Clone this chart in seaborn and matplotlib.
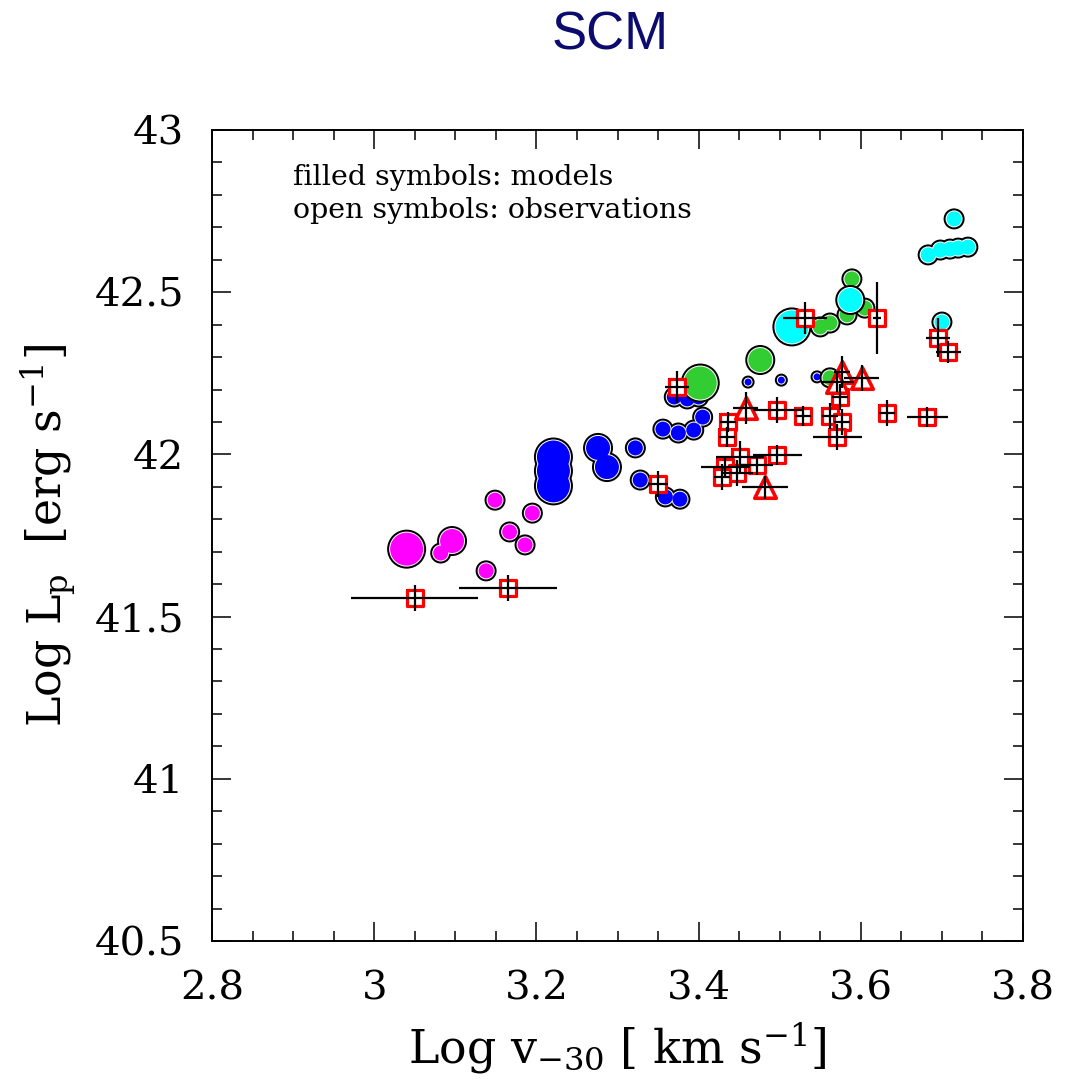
import numpy as np
import pandas as pd
import matplotlib
matplotlib.use("Agg")
import matplotlib.pyplot as plt
import seaborn as sns
from matplotlib.ticker import MultipleLocator

# model points (filled symbols), one group per colour
mag_x = [3.040, 3.082, 3.096, 3.138, 3.149, 3.167, 3.186, 3.195]
mag_y = [41.708, 41.696, 41.733, 41.641, 41.859, 41.761, 41.721, 41.819]
mag_cls = ["XL", "M", "L", "M", "M", "M", "M", "M"]

blue_x = [3.221, 3.221, 3.221, 3.276, 3.287, 3.322, 3.328, 3.359, 3.377,
          3.356, 3.375, 3.394, 3.405, 3.370, 3.386, 3.400, 3.461, 3.502, 3.546]
blue_y = [41.992, 41.949, 41.903, 42.020, 41.961, 42.020, 41.921, 41.869, 41.862,
          42.078, 42.066, 42.075, 42.115, 42.177, 42.171, 42.177, 42.223, 42.229, 42.239]
blue_cls = ["XL", "XL", "XL", "L", "L", "M", "M", "M", "M",
            "M", "M", "M", "M", "M", "M", "M", "S", "S", "S"]

green_x = [3.402, 3.476, 3.562, 3.550, 3.562, 3.583, 3.605, 3.589]
green_y = [42.220, 42.291, 42.236, 42.393, 42.405, 42.430, 42.451, 42.541]
green_cls = ["XL", "L", "M", "M", "M", "M", "M", "M"]

cyan_x = [3.515, 3.587, 3.700, 3.715, 3.683, 3.698, 3.710, 3.720, 3.732]
cyan_y = [42.393, 42.476, 42.408, 42.726, 42.615, 42.630, 42.633, 42.636, 42.639]
cyan_cls = ["XL", "L", "M", "M", "M", "M", "M", "M", "M"]

# observations (open symbols)
sq_x = [3.050, 3.165, 3.350, 3.373, 3.436, 3.435, 3.451, 3.433, 3.447, 3.429, 3.497, 3.472,
        3.529, 3.497, 3.562, 3.577, 3.571, 3.574, 3.632, 3.531, 3.620, 3.695, 3.708, 3.682]
sq_y = [41.557, 41.588, 41.909, 42.208, 42.100, 42.054, 41.992, 41.961, 41.943, 41.930, 41.998, 41.967,
        42.118, 42.137, 42.118, 42.100, 42.054, 42.177, 42.128, 42.420, 42.420, 42.359, 42.316, 42.115]
sq_xerr = [0.078, 0.060, 0.012, 0.015, 0.010, 0.010, 0.030, 0.030, 0.020, 0.010, 0.030, 0.020,
           0.010, 0.030, 0.010, 0.010, 0.030, 0.010, 0.010, 0.027, 0.005, 0.015, 0.015, 0.025]
sq_yerr = [0.040, 0.040, 0.040, 0.050, 0.030, 0.030, 0.050, 0.030, 0.040, 0.040, 0.030, 0.030,
           0.030, 0.040, 0.040, 0.040, 0.040, 0.040, 0.040, 0.050, 0.110, 0.060, 0.035, 0.030]

tri_x = [3.458, 3.482, 3.577, 3.571, 3.601]
tri_y = [42.143, 41.899, 42.254, 42.223, 42.236]
tri_xerr = [0.015, 0.028, 0.010, 0.020, 0.022]
tri_yerr = [0.050, 0.035, 0.050, 0.030, 0.040]

groups = [
    ("#FF00FF", mag_x, mag_y, mag_cls),
    ("#0000FF", blue_x, blue_y, blue_cls),
    ("#32CD32", green_x, green_y, green_cls),
    ("#00FFFF", cyan_x, cyan_y, cyan_cls),
]

# outer radius of each symbol class, in pixels (dpi 100)
radius = {"S": 6.5, "M": 10.5, "L": 15.0, "XL": 19.5}


def area(r_px):
    return (2 * r_px * 0.72) ** 2


sns.set_style("ticks")
plt.rcParams["font.family"] = ["DejaVu Serif"]
plt.rcParams["mathtext.fontset"] = "dejavuserif"
plt.rcParams["text.color"] = "black"
plt.rcParams["axes.labelcolor"] = "black"
plt.rcParams["xtick.color"] = "black"
plt.rcParams["ytick.color"] = "black"
plt.rcParams["axes.edgecolor"] = "black"

fig = plt.figure(figsize=(10.69, 10.88), dpi=100)
ax = fig.add_axes([0.1983, 0.1351, 0.7587, 0.7454])

for color, xs, ys, cls in groups:
    df = pd.DataFrame({"x": xs, "y": ys, "cls": cls})
    # black rim, thin white ring, coloured disk
    for shrink, c in [(0, "black"), (2.0, "white"), (3.0, color)]:
        sizes = {k: area(v - shrink) for k, v in radius.items()}
        sns.scatterplot(data=df, x="x", y="y", size="cls", sizes=sizes, color=c,
                        edgecolor="none", linewidth=0, legend=False, ax=ax, zorder=2)

sq = pd.DataFrame({"x": sq_x, "y": sq_y})
tri = pd.DataFrame({"x": tri_x, "y": tri_y})
sns.scatterplot(data=sq, x="x", y="y", marker="s", s=175, color="black",
                edgecolor="none", linewidth=0, ax=ax, zorder=3)
sns.scatterplot(data=sq, x="x", y="y", marker="s", s=132, color="white",
                edgecolor="#FF0000", linewidth=2.3, ax=ax, zorder=3)
sns.scatterplot(data=tri, x="x", y="y", marker="^", s=240, color="white",
                edgecolor="#FF0000", linewidth=2.6, ax=ax, zorder=3)
ax.errorbar(sq_x, sq_y, xerr=sq_xerr, yerr=sq_yerr, fmt="none", ecolor="black",
            elinewidth=1.6, capsize=0, zorder=4)
ax.errorbar(tri_x, tri_y, xerr=tri_xerr, yerr=tri_yerr, fmt="none", ecolor="black",
            elinewidth=1.6, capsize=0, zorder=4)

ax.set_xlim(2.8, 3.8)
ax.set_ylim(40.5, 43)
ax.xaxis.set_minor_locator(MultipleLocator(0.05))
ax.yaxis.set_minor_locator(MultipleLocator(0.1))
ax.set_xticks([2.8, 3.0, 3.2, 3.4, 3.6, 3.8])
ax.set_xticklabels(["2.8", "3", "3.2", "3.4", "3.6", "3.8"])
ax.set_yticks([40.5, 41, 41.5, 42, 42.5, 43])
ax.set_yticklabels(["40.5", "41", "41.5", "42", "42.5", "43"])
ax.tick_params(which="major", direction="in", length=14, width=1.1,
               top=True, right=True, labelsize=29)
ax.tick_params(which="minor", direction="in", length=7, width=1.1, top=True, right=True)
ax.tick_params(axis="x", which="major", pad=21)
ax.tick_params(axis="y", which="major", pad=20)
for sp in ax.spines.values():
    sp.set_linewidth(1.4)

ax.set_xlabel(r"Log v$_{-30}$ [ km s$^{-1}$]", fontsize=33, labelpad=10)
ax.set_ylabel(r"Log L$_{\rm p}$  [erg s$^{-1}$]", fontsize=33, labelpad=12)

ax.text(0.1, 0.942, "filled symbols: models", transform=ax.transAxes,
        fontsize=20.5, va="center", ha="left")
ax.text(0.1, 0.901, "open symbols: observations", transform=ax.transAxes,
        fontsize=20.5, va="center", ha="left")

fig.text(0.571, 0.967, "SCM", family="Liberation Sans", fontsize=38,
         color="#0c0c6e", ha="center", va="center")

fig.savefig("out.png", dpi=100)
